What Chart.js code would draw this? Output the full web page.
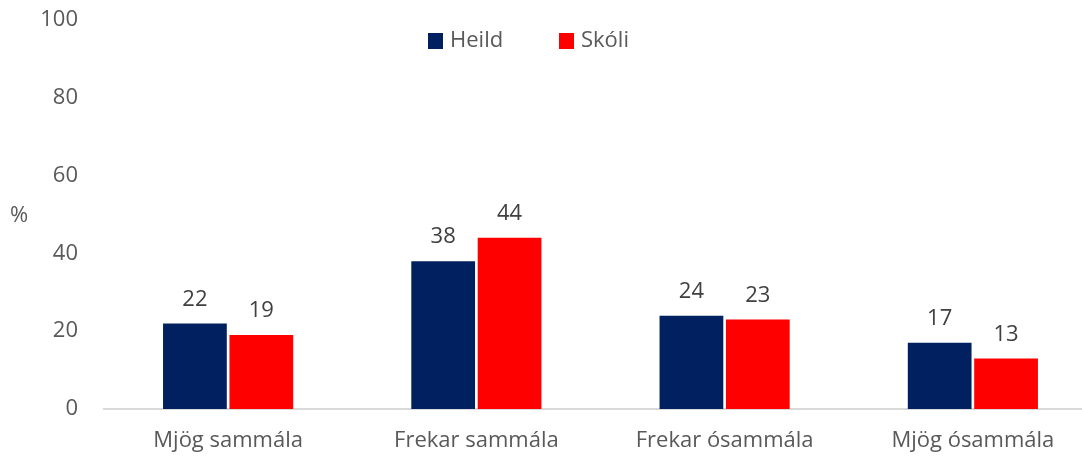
<!DOCTYPE html>
<html>
<head>
<meta charset="utf-8">
<script src="https://cdn.jsdelivr.net/npm/chart.js@4/dist/chart.umd.min.js"></script>
<style>
  html, body { margin: 0; padding: 0; background: #fff; overflow: hidden; }
  #wrap { width: 1100px; height: 459px; }
</style>
</head>
<body>
<div id="wrap"><canvas id="chart" width="1100" height="459"></canvas></div>
<script>
const categories = ['Mjög sammála', 'Frekar sammála', 'Frekar ósammála', 'Mjög ósammála'];
const heild = [22, 38, 24, 17];
const skoli = [19, 44, 23, 13];
const seriesNames = ['Heild', 'Skóli'];
const seriesColors = ['#002060', '#ff0000'];
const yTicks = [0, 20, 40, 60, 80, 100];

const FONT = '"Open Sans", sans-serif';
const textColor = '#595959';

// value labels above each bar
const valueLabels = {
  id: 'valueLabels',
  afterDatasetsDraw(chart) {
    const ctx = chart.ctx;
    ctx.save();
    ctx.font = `22px ${FONT}`;
    ctx.fillStyle = '#404040';
    ctx.textAlign = 'center';
    ctx.textBaseline = 'middle';
    chart.data.datasets.forEach((ds, i) => {
      chart.getDatasetMeta(i).data.forEach((bar, j) => {
        ctx.fillText(String(ds.data[j]), bar.x, bar.y - 24);
      });
    });
    ctx.restore();
  }
};

// legend and the "%" unit label
const extras = {
  id: 'extras',
  afterDraw(chart) {
    const ctx = chart.ctx;
    ctx.save();
    ctx.font = `22px ${FONT}`;
    ctx.textBaseline = 'middle';
    ctx.fillStyle = textColor;
    ctx.textAlign = 'left';
    ctx.fillText('%', 10, 216);

    const starts = [428, 559];
    chart.data.datasets.forEach((ds, i) => {
      const x = starts[i];
      ctx.fillStyle = ds.backgroundColor;
      ctx.fillRect(x, 33, 15, 16);
      ctx.fillStyle = textColor;
      ctx.fillText(ds.label, x + 22, 41);
    });
    ctx.restore();
  }
};

new Chart(document.getElementById('chart'), {
  type: 'bar',
  data: {
    labels: categories,
    datasets: [
      { label: seriesNames[0], data: heild, backgroundColor: seriesColors[0] },
      { label: seriesNames[1], data: skoli, backgroundColor: seriesColors[1] },
    ],
  },
  options: {
    responsive: false,
    animation: false,
    layout: { padding: { top: 20, right: 3, left: 0, bottom: 0 } },
    datasets: { bar: { categoryPercentage: 0.535, barPercentage: 0.96 } },
    plugins: { legend: { display: false }, tooltip: { enabled: false } },
    scales: {
      x: {
        grid: { display: false, drawTicks: false },
        border: { display: true, color: '#d9d9d9', width: 2 },
        ticks: { color: textColor, font: { family: FONT, size: 22 }, padding: 19 },
        afterFit(scale) { scale.height = 50; },
      },
      y: {
        min: 0,
        max: 100,
        afterBuildTicks(scale) { scale.ticks = yTicks.map((v) => ({ value: v })); },
        grid: { display: false, drawTicks: false },
        border: { display: false },
        ticks: { color: textColor, font: { family: FONT, size: 22 }, padding: 26 },
        afterFit(scale) {
          scale.width = 104;
          scale.paddingTop = 0;
          scale.paddingBottom = 0;
        },
      },
    },
  },
  plugins: [valueLabels, extras],
});
</script>
</body>
</html>
